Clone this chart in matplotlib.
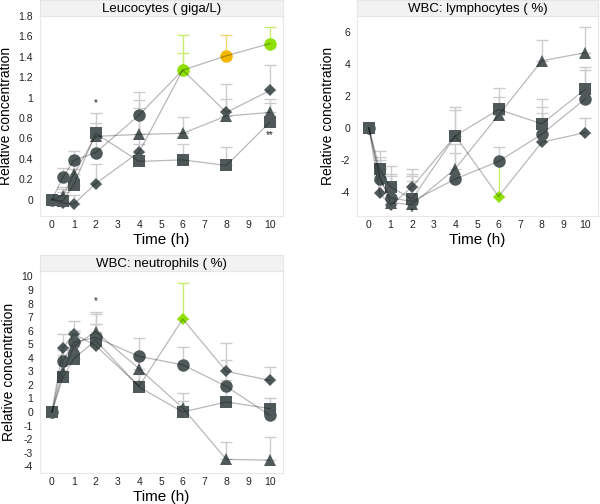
import matplotlib
matplotlib.use("Agg")
import matplotlib.pyplot as plt
from matplotlib.ticker import FuncFormatter

plt.rcParams['font.family'] = ['Liberation Sans', 'DejaVu Sans']

times = [0, 0.5, 1, 2, 4, 6, 8, 10]
series_markers = ['o', '^', 's', 'D']  # circle, triangle, square, diamond

# ---------- Leucocytes ----------
leu_vals = {
    'o': [0, 0.22, 0.385, 0.46, 0.83, 1.27, 1.41, 1.53],
    '^': [0, 0.04, 0.25, 0.62, 0.64, 0.65, 0.82, 0.855],
    's': [0, -0.01, 0.147, 0.65, 0.375, 0.39, 0.335, 0.76],
    'D': [0, -0.03, -0.045, 0.157, 0.467, 1.27, 0.855, 1.07],
}
leu_top = {
    'o': [0, 0.31, 0.48, 0.62, 1.06, 1.61, 1.61, 1.69],
    '^': [0, 0.12, 0.35, 0.75, 0.98, 0.81, 0.99, 0.99],
    's': [0, 0.10, 0.30, 0.85, 0.55, 0.55, 0.52, 0.95],
    'D': [0, 0.08, 0.05, 0.35, 0.90, 1.44, 1.13, 1.32],
}
leu_sig = {
    'o': ['', '', '', '', '', 'g', 'y', 'g'],
    '^': [''] * 8,
    's': [''] * 8,
    'D': ['', '', '', '', '', 'g', '', ''],
}
leu_stars = [(2, 0.95, '*'), (10, 0.63, '**')]

# ---------- Lymphocytes ----------
lym_vals = {
    'o': [0, -3.2, -4.4, -4.6, -3.2, -2.1, -0.4, 1.8],
    '^': [0, -3.0, -4.7, -4.8, -2.55, 0.8, 4.2, 4.7],
    's': [0, -2.6, -3.7, -4.45, -0.5, 1.15, 0.25, 2.4],
    'D': [0, -4.1, -4.85, -3.7, -0.5, -4.3, -0.9, -0.3],
}
lym_top = {
    'o': [0, -1.8, -2.9, -3.0, -1.6, -1.2, 1.3, 3.6],
    '^': [0, -2.0, -3.0, -3.3, -1.0, 1.9, 5.5, 6.3],
    's': [0, -1.45, -2.4, -2.6, 1.3, 2.5, 1.8, 3.8],
    'D': [0, -2.5, -3.5, -2.9, 1.1, -2.2, 0.9, 0.6],
}
lym_sig = {
    'o': [''] * 8,
    '^': [''] * 8,
    's': [''] * 8,
    'D': ['', '', '', '', '', 'g', '', ''],
}
lym_stars = [(2, -5.25, '*')]

# ---------- Neutrophils ----------
neu_vals = {
    'o': [0, 3.75, 5.15, 5.5, 4.1, 3.48, 1.89, -0.25],
    '^': [0, 2.94, 4.83, 5.93, 3.19, 0.3, -3.5, -3.55],
    's': [0, 2.55, 3.92, 5.3, 1.84, 0.0, 0.74, 0.25],
    'D': [0, 4.73, 5.76, 4.9, 1.9, 6.86, 3.0, 2.33],
}
neu_top = {
    'o': [0, 4.6, 6.0, 7.2, 5.47, 4.78, 3.8, 0.5],
    '^': [0, 4.2, 6.0, 7.4, 4.3, 1.4, -2.2, -1.84],
    's': [0, 3.8, 5.2, 6.5, 2.8, 0.8, 2.33, 1.0],
    'D': [0, 5.76, 6.7, 6.5, 2.9, 9.5, 5.1, 3.3],
}
neu_sig = {
    'o': [''] * 8,
    '^': [''] * 8,
    's': [''] * 8,
    'D': ['', '', '', '', '', 'g', '', ''],
}
neu_stars = [(2, 8.15, '*')]

panels = [
    ("Leucocytes ( giga/L)", leu_vals, leu_top, leu_sig, leu_stars,
     (-0.16, 1.8), [0, 0.2, 0.4, 0.6, 0.8, 1, 1.2, 1.4, 1.6, 1.8],
     [40, 16, 283, 216]),
    ("WBC: lymphocytes ( %)", lym_vals, lym_top, lym_sig, lym_stars,
     (-5.52, 7.0), [-4, -2, 0, 2, 4, 6],
     [357, 16, 598, 216]),
    ("WBC: neutrophils ( %)", neu_vals, neu_top, neu_sig, neu_stars,
     (-4.5, 10.4), list(range(-4, 11)),
     [40, 271, 283, 473]),
]

W, H = 600, 504
fig = plt.figure(figsize=(6, 5.04), dpi=100)

base_col = '#4f5959'
sig_col = {'': base_col, 'g': '#8ee000', 'y': '#f2b800'}
err_col = {'': '#cccccc', 'g': '#c8ec70', 'y': '#f0d870'}
msize = {'o': 9.0, '^': 8.5, 's': 9.0, 'D': 6.5}

for title, vals, tops, sigs, stars, ylim, yticks, box in panels:
    l, t, r, b = box
    ax = fig.add_axes([l / W, 1 - b / H, (r - l) / W, (b - t) / H])
    sax = fig.add_axes([l / W, 1 - t / H, (r - l) / W, 16 / H])
    sax.set_facecolor('#f2f2f2')
    sax.set_xticks([]); sax.set_yticks([])
    for s in sax.spines.values():
        s.set_color('#e6e6e6')
    sax.text(0.5, 0.45, title, ha='center', va='center', fontsize=9.5,
             transform=sax.transAxes)

    for m in series_markers:
        v = vals[m]; tp = tops[m]; sg = sigs[m]
        for i, x in enumerate(times):
            up = tp[i] - v[i]
            if up > 0:
                ax.errorbar([x], [v[i]], yerr=[[0], [up]], fmt='none',
                            ecolor=err_col[sg[i]], elinewidth=1, capsize=4,
                            capthick=1, zorder=1)
        for i, x in enumerate(times):
            ax.plot([x], [v[i]], marker=m, linestyle='none', markersize=msize[m],
                    color=sig_col[sg[i]], markeredgewidth=0, zorder=2)
        ax.plot(times, v, color='black', alpha=0.28, linewidth=0.9, zorder=3)

    for x, y, s in stars:
        ax.text(x, y, s, ha='center', va='center', fontsize=7, color='#222222',
                zorder=5)

    ax.set_xlim(-0.55, 10.6)
    ax.set_ylim(*ylim)
    ax.set_xticks(range(0, 11))
    ax.set_yticks(yticks)
    ax.yaxis.set_major_formatter(FuncFormatter(lambda v, p: '%g' % v))
    ax.tick_params(length=0, labelsize=7.5, colors='#222222')
    ax.tick_params(axis='x', pad=3)
    ax.tick_params(axis='y', pad=5)
    for s in ax.spines.values():
        s.set_color('#e8e8e8')
    ax.set_xlabel('Time (h)', fontsize=11, labelpad=2)
    ax.set_ylabel('Relative concentration', fontsize=10, labelpad=4)

fig.savefig('out.png', dpi=100)
